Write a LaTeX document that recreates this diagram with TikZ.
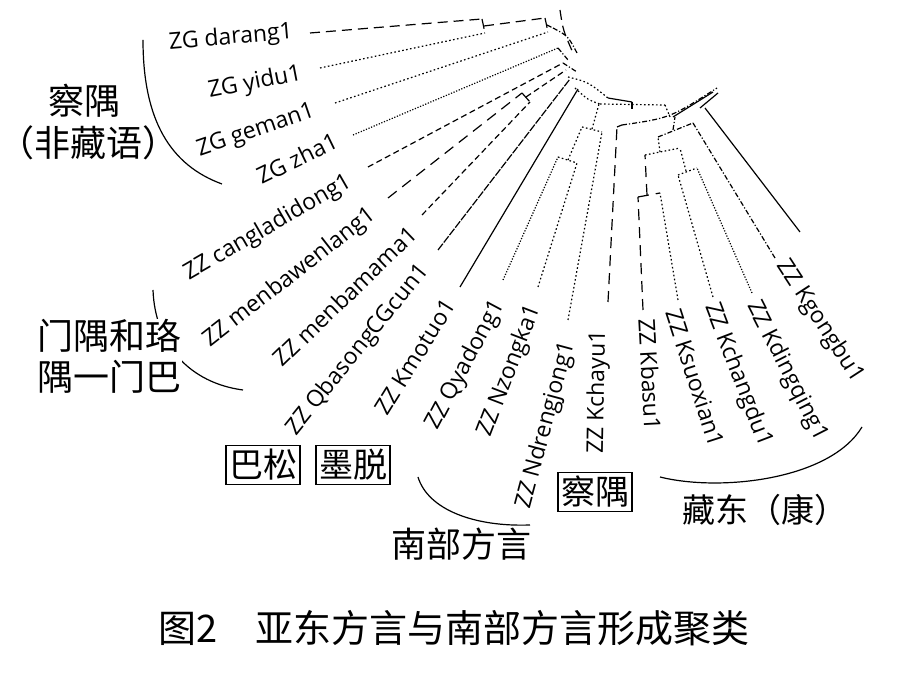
\documentclass[tikz,border=0pt]{standalone}
\usepackage{fontspec}
\setmainfont{Open Sans}
\newfontfamily\cjk{Noto Sans CJK SC}
\newfontfamily\cjkhalf{Noto Sans CJK SC}[CharacterWidth=AlternateHalf]
\begin{document}
\begin{tikzpicture}[x=0.5pt,y=-0.5pt,
    leaf/.style={font=\fontsize{11.5}{13}\selectfont,inner sep=0pt},
    grp/.style={font=\cjk\fontsize{18}{20.5}\selectfont,inner sep=0pt},
    tag/.style={draw,line width=0.6pt,font=\cjk\fontsize{17}{19}\selectfont,inner xsep=1.5pt,inner ysep=0pt,minimum height=19.5pt},
    br/.style={line width=0.6pt},
    dsh/.style={br,dash pattern=on 5pt off 3pt},
    lds/.style={br,dash pattern=on 5.5pt off 3.5pt},
    fds/.style={br,dash pattern=on 3pt off 1.8pt},
    sds/.style={br,dash pattern=on 4pt off 0.7pt},
    dtt/.style={br,dash pattern=on 0.8pt off 1.2pt},
    fdt/.style={br,dash pattern=on 0.6pt off 0.8pt},
    ddt/.style={br,dash pattern=on 2.5pt off 1pt on 0.6pt off 1pt}]
    \useasboundingbox (0,0) rectangle (900,688);

    \node[leaf,rotate=5]   (darang)  at (231,38)  {ZG darang1};
    \node[leaf,rotate=11]  (yidu)    at (255,83)  {ZG yidu1};
    \node[leaf,rotate=19]  (geman)   at (256,131) {ZG geman1};
    \node[leaf,rotate=26]  (zha)     at (297,158) {ZG zha1};
    \node[leaf,rotate=30]  (cangla)  at (268,228) {ZZ cangladidong1};
    \node[leaf,rotate=38]  (menbaw)  at (290,278) {ZZ menbawenlang1};
    \node[leaf,rotate=44]  (menbam)  at (345,296) {ZZ menbamama1};
    \node[leaf,rotate=51]  (basong)  at (358,350) {ZZ QbasongCGcun1};
    \node[leaf,rotate=58]  (motuo)   at (415,357) {ZZ Kmotuo1};
    \node[leaf,rotate=62]  (yadong)  at (466,365) {ZZ Qyadong1};
    \node[leaf,rotate=69]  (zongka)  at (510,371) {ZZ Nzongka1};
    \node[leaf,rotate=75]  (dreng)   at (546,425) {ZZ Ndrengjong1};
    \node[leaf,rotate=89]  (chayu)   at (598,392) {ZZ Kchayu1};
    \node[leaf,rotate=-87] (basu)    at (650,375) {ZZ Kbasu1};
    \node[leaf,rotate=-72] (suoxian) at (695,378) {ZZ Ksuoxian1};
    \node[leaf,rotate=-69] (changdu) at (738,375) {ZZ Kchangdu1};
    \node[leaf,rotate=-63] (dingq)   at (787,371) {ZZ Kdingqing1};
    \node[leaf,rotate=-57] (gongbu)  at (820,321) {ZZ Kgongbu1};

    \coordinate (t1) at (310,33);  \coordinate (b1) at (482,19);
    \coordinate (t2) at (320,68);  \coordinate (b2) at (485,33);
    \coordinate (t3) at (335,103); \coordinate (b3) at (548,32);
    \coordinate (t4) at (353,135); \coordinate (b4) at (558,48);
    \coordinate (t5) at (368,167); \coordinate (b5) at (563,63);
    \coordinate (t6) at (388,198); \coordinate (b6) at (522,93);
    \coordinate (t7) at (422,215); \coordinate (b7) at (530,102);
    \coordinate (t8) at (438,250); \coordinate (b8) at (570,79);
    \coordinate (t9) at (460,287); \coordinate (b9) at (578,89);
    \coordinate (t10) at (503,280); \coordinate (b10) at (558,157);
    \coordinate (t11) at (538,287); \coordinate (b11) at (577,163);
    \coordinate (t12) at (568,320); \coordinate (b12) at (602,132);
    \coordinate (t13) at (608,302); \coordinate (b13) at (617,127);
    \coordinate (t14) at (643,310); \coordinate (b14) at (638,197);
    \coordinate (t15) at (678,300); \coordinate (b15) at (660,193);
    \coordinate (t16) at (713,297); \coordinate (b16) at (678,175);
    \coordinate (t17) at (752,293); \coordinate (b17) at (697,168);
    \coordinate (t18) at (775,258); \coordinate (b18) at (693,123);
    \coordinate (t19) at (800,232); \coordinate (b19) at (705,108);

    \coordinate (m1) at (484,26);  \coordinate (p1) at (545,18);
    \coordinate (m2) at (547,25);  \coordinate (p2) at (553,28);
    \coordinate (a1) at (560,10);  \coordinate (a2) at (573,53);
    \coordinate (a3) at (577,53);  \coordinate (a4) at (568,60);
    \coordinate (a5) at (577,72);  \coordinate (a6) at (568,77);
    \coordinate (a7) at (608,98);  \coordinate (a8) at (632,102);
    \coordinate (a9) at (632,109); \coordinate (a10) at (575,88);
    \coordinate (a11) at (600,104); \coordinate (a12) at (665,105);
    \coordinate (a13) at (670,117);
    \coordinate (m6) at (526,97);  \coordinate (p6) at (566,70);
    \coordinate (m10) at (568,160); \coordinate (p10) at (582,127);
    \coordinate (m12) at (592,129); \coordinate (p12) at (599,104);
    \coordinate (p13) at (622,125); \coordinate (r1) at (717,88);
    \coordinate (r2) at (673,117); \coordinate (r3) at (713,92);
    \coordinate (r4) at (700,108); \coordinate (r5) at (718,93);
    \coordinate (m14) at (647,195); \coordinate (p14) at (645,155);
    \coordinate (m16) at (686,171); \coordinate (p16) at (680,148);
    \coordinate (m15) at (660,152); \coordinate (p15) at (658,137);
    \coordinate (m18) at (673,130); \coordinate (p18) at (675,117);

    \path (t1) edge[dsh] (b1)
          (t2) edge[dtt] (b2)
          (t3) edge[dtt] (b3)
          (t4) edge[fdt] (b4)
          (t5) edge[fds] (b5)
          (t6) edge[lds] (b6)
          (t7) edge[fds] (b7)
          (t8) edge[sds] (b8)
          (t9) edge[br]  (b9)
          (t10) edge[fdt] (b10)
          (t11) edge[dtt] (b11)
          (t12) edge[dtt] (b12)
          (t13) edge[lds] (b13)
          (t14) edge[lds] (b14)
          (t15) edge[dtt] (b15)
          (t16) edge[dtt] (b16)
          (t17) edge[fdt] (b17)
          (t18) edge[ddt] (b18)
          (t19) edge[br]  (b19)
          ;
    \path (b1) edge[dsh] (b2)
          (m1) edge[dsh] (p1)
          (p1) edge[dsh] (b3)
          (m2) edge[ddt] (p2)
          (b4) edge[ddt] (a4)
          (b5) edge[ddt] (a5)
          (b6) edge[lds] (b7)
          (m6) edge[fds] (p6)
          (a7) edge[br]  (a8)
          (a8) edge[br]  (a9)
          (a11) edge[dtt] (a12)
          (a12) edge[dtt] (a13)
          (b10) edge[dtt] (b11)
          (m10) edge[dtt] (p10)
          (p10) edge[dtt] (b12)
          (m12) edge[dtt] (p12)
          (b13) edge[lds] (p13)
          (r2) edge[br]  (r3)
          (r4) edge[br]  (r5)
          (b14) edge[lds] (b15)
          (m14) edge[lds] (p14)
          (b16) edge[dtt] (b17)
          (m16) edge[dtt] (p16)
          (p14) edge[dtt] (p16)
          (m15) edge[dtt] (p15)
          (p15) edge[ddt] (b18)
          (m18) edge[ddt] (p18)
          ;
    \draw[dsh] (a1) .. controls (563,30) .. (a2);
    \draw[ddt] (p2) .. controls (568,36) .. (a3);
    \draw[dtt] (a6) .. controls (588,82) .. (a7);
    \draw[dtt] (a10) .. controls (588,100) .. (a11);
    \draw[ddt] (p13) .. controls (670,118) .. (r1);

    \draw[br] (143,40) .. controls (143,120) and (170,165) .. (222,184);
    \draw[br] (153,290) .. controls (155,345) and (190,383) .. (243,390);
    \draw[br] (418,477) .. controls (428,510) and (475,527) .. (530,525);
    \draw[br] (660,477) .. controls (720,492) and (830,480) .. (862,427);

    \node[grp] (zgname) at (84,101) {察隅};
    \node[grp,font=\cjkhalf\fontsize{18}{20.5}\selectfont] (zgnote) at (88,143) {（非藏语）};
    \node[grp,fill=white,align=left] (menyu) at (110,356) {门隅和珞\\隅一门巴};
    \node[tag] (basongtag) at (263,465) {巴松};
    \node[tag] (motuotag)  at (353,465) {墨脱};
    \node[tag] (chayutag)  at (595,492) {察隅};
    \node[grp,font=\cjk\fontsize{17.5}{20}\selectfont] (nanbu) at (461,544) {南部方言};
    \node[grp,font=\cjk\fontsize{16.5}{19}\selectfont] (zangdong) at (765,510) {藏东（康）};
    \node[grp,font=\cjk\fontsize{19}{22}\selectfont,anchor=west] (fig) at (158,628) {图2\quad 亚东方言与南部方言形成聚类};
\end{tikzpicture}
\end{document}
